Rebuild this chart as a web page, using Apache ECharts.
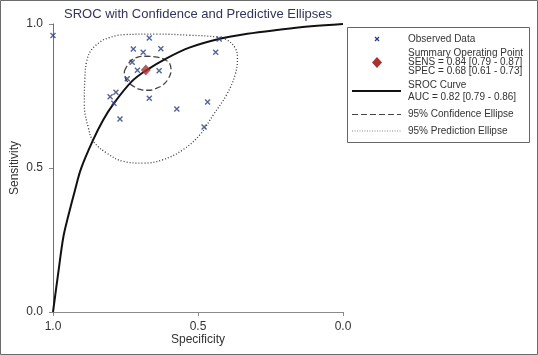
<!DOCTYPE html>
<html>
<head>
<meta charset="utf-8">
<script src="https://cdn.jsdelivr.net/npm/echarts@6/dist/echarts.min.js"></script>
<style>
  html, body { margin: 0; padding: 0; background: #fff; }
  #chart { width: 538px; height: 355px; }
</style>
</head>
<body>
<div id="chart"></div>
<script>
// observed study points (specificity, sensitivity)
const obsSpec = [1.0, 0.668, 0.723, 0.689, 0.628, 0.439, 0.727, 0.709, 0.634, 0.744,
  0.803, 0.783, 0.790, 0.668, 0.573, 0.467, 0.769, 0.479, 0.427];
const obsSens = [0.96, 0.951, 0.913, 0.902, 0.914, 0.902, 0.867, 0.839, 0.838, 0.810,
  0.747, 0.763, 0.725, 0.742, 0.705, 0.729, 0.670, 0.642, 0.948];

// summary operating point
const summarySpec = [0.68];
const summarySens = [0.84];

// SROC curve
const srocSpec = [1.0, 0.982, 0.964, 0.947, 0.924, 0.903, 0.862, 0.827, 0.792, 0.729, 0.677,
  0.610, 0.530, 0.428, 0.330, 0.220, 0.110, 0.0];
const srocSens = [0.0, 0.135, 0.262, 0.335, 0.424, 0.499, 0.597, 0.667, 0.722, 0.800, 0.840,
  0.880, 0.918, 0.948, 0.966, 0.980, 0.992, 1.0];

// 95% confidence ellipse
const confSpec = [0.754, 0.734, 0.710, 0.677, 0.641, 0.614, 0.597, 0.593, 0.602, 0.620,
  0.645, 0.671, 0.700, 0.723, 0.748, 0.754];
const confSens = [0.836, 0.870, 0.884, 0.888, 0.885, 0.876, 0.861, 0.838, 0.811, 0.789,
  0.776, 0.770, 0.773, 0.784, 0.807, 0.836];

// 95% prediction ellipse
const predSpec = [0.827, 0.758, 0.642, 0.528, 0.436, 0.401, 0.372, 0.364, 0.372, 0.401,
  0.447, 0.493, 0.551, 0.620, 0.689, 0.758, 0.815, 0.861, 0.878, 0.892, 0.890, 0.884,
  0.867, 0.827];
const predSens = [0.945, 0.963, 0.965, 0.961, 0.955, 0.945, 0.917, 0.882, 0.824, 0.755,
  0.685, 0.616, 0.564, 0.529, 0.517, 0.523, 0.552, 0.593, 0.639, 0.720, 0.813, 0.870,
  0.911, 0.945];

const legendLines = [
  ['Observed Data'],
  ['Summary Operating Point', 'SENS = 0.84 [0.79 - 0.87]', 'SPEC = 0.68 [0.61 - 0.73]'],
  ['SROC Curve', 'AUC = 0.82 [0.79 - 0.86]'],
  ['95% Confidence Ellipse'],
  ['95% Prediction Ellipse'],
];

const zip = (a, b) => a.map((v, i) => [v, b[i]]);

const FONT = 'Liberation Sans';
const crossPath = 'path://M0,0L10,10M10,0L0,10';

let myChart = echarts.init(document.getElementById('chart'), null, { renderer: 'canvas' });

// legend text entries, drawn as title blocks (top = block top, lh = line height)
const legText = (lines, top, lh) => ({
  text: lines.join('\n'),
  left: 408,
  top: top,
  padding: 0,
  itemGap: 0,
  textStyle: { fontFamily: FONT, fontSize: 10, fontWeight: 'normal', color: '#333', lineHeight: lh },
});

let option = {
  animation: false,
  backgroundColor: '#fff',
  title: [
    {
      text: 'SROC with Confidence and Predictive Ellipses',
      left: 193,
      top: 3,
      textAlign: 'center',
      textStyle: { fontFamily: FONT, fontSize: 13, fontWeight: 'normal', color: '#33335c' },
    },
    legText(legendLines[0], 33, 12),
    legText(legendLines[1], 48.5, 9),
    legText(legendLines[2], 79.5, 11.5),
    legText(legendLines[3], 108.5, 12),
    legText(legendLines[4], 125, 12),
  ],
  grid: { left: 53, right: 195, top: 24, bottom: 43, outerBoundsMode: 'none', containLabel: false },
  xAxis: {
    type: 'value',
    min: 0,
    max: 1,
    interval: 0.5,
    inverse: true,
    name: 'Specificity',
    nameLocation: 'middle',
    nameGap: 22,
    nameMoveOverlap: false,
    nameTextStyle: { fontFamily: FONT, fontSize: 12, color: '#333' },
    axisLine: { show: true, onZero: false, lineStyle: { color: '#8a8a8a', width: 1 } },
    axisTick: { show: true, length: 4, lineStyle: { color: '#8a8a8a' } },
    axisLabel: {
      margin: 9,
      fontFamily: FONT,
      fontSize: 12,
      color: '#333',
      formatter: (v) => v.toFixed(1),
    },
    splitLine: { show: false },
  },
  yAxis: {
    type: 'value',
    min: 0,
    max: 1,
    interval: 0.5,
    name: 'Sensitivity',
    nameLocation: 'middle',
    nameGap: 32,
    nameMoveOverlap: false,
    nameTextStyle: { fontFamily: FONT, fontSize: 12, color: '#333' },
    axisLine: { show: true, onZero: false, lineStyle: { color: '#6f6f6f', width: 1 } },
    axisTick: { show: true, length: 4, lineStyle: { color: '#8a8a8a' } },
    axisLabel: {
      margin: 10,
      fontFamily: FONT,
      fontSize: 12,
      color: '#333',
      formatter: (v) => v.toFixed(1),
    },
    splitLine: { show: false },
  },
  series: [
    {
      name: 'prediction',
      type: 'line',
      data: zip(predSpec, predSens),
      smooth: 0.4,
      symbol: 'none',
      lineStyle: { color: '#3a3a3a', width: 1.3, type: [1, 2] },
      z: 2,
    },
    {
      name: 'confidence',
      type: 'line',
      data: zip(confSpec, confSens),
      smooth: 0.4,
      symbol: 'none',
      lineStyle: { color: '#444', width: 1.3, type: [6, 3] },
      z: 2,
    },
    {
      name: 'sroc',
      type: 'line',
      data: zip(srocSpec, srocSens),
      smooth: 0.35,
      symbol: 'none',
      lineStyle: { color: '#111', width: 2 },
      z: 3,
    },
    {
      name: 'observed',
      type: 'scatter',
      data: zip(obsSpec, obsSens),
      symbol: crossPath,
      symbolSize: 5,
      itemStyle: { color: 'none', borderColor: '#2c3c80', borderWidth: 1.4 },
      z: 4,
    },
    {
      name: 'summary',
      type: 'scatter',
      data: zip(summarySpec, summarySens),
      symbol: 'diamond',
      symbolSize: [10, 11],
      itemStyle: { color: '#a83232' },
      z: 5,
    },
  ],
  graphic: [
    // outer frame
    {
      type: 'rect',
      shape: { x: 0.5, y: 0.5, width: 537, height: 354 },
      style: { fill: 'none', stroke: '#6a6a6a', lineWidth: 1 },
      silent: true,
    },
    // legend box
    {
      type: 'rect',
      shape: { x: 347.5, y: 27.5, width: 182, height: 115 },
      style: { fill: 'none', stroke: '#666', lineWidth: 1 },
    },
    // observed marker
    { type: 'line', shape: { x1: 375, y1: 37, x2: 379, y2: 41 }, style: { stroke: '#2c3c80', lineWidth: 1.3 } },
    { type: 'line', shape: { x1: 379, y1: 37, x2: 375, y2: 41 }, style: { stroke: '#2c3c80', lineWidth: 1.3 } },
    // summary marker
    { type: 'polygon', shape: { points: [[377, 57], [382, 62.5], [377, 68], [372, 62.5]] }, style: { fill: '#a83232' } },
    // sroc line
    { type: 'line', shape: { x1: 352, y1: 91, x2: 401, y2: 91 }, style: { stroke: '#111', lineWidth: 2 } },
    // confidence
    { type: 'line', shape: { x1: 352, y1: 114.5, x2: 401, y2: 114.5 }, style: { stroke: '#444', lineWidth: 1.2, lineDash: [6, 3] } },
    // prediction
    { type: 'line', shape: { x1: 352, y1: 131, x2: 401, y2: 131 }, style: { stroke: '#888', lineWidth: 1, lineDash: [1, 1.5] } },
  ],
};

myChart.setOption(option, true);
</script>
</body>
</html>
